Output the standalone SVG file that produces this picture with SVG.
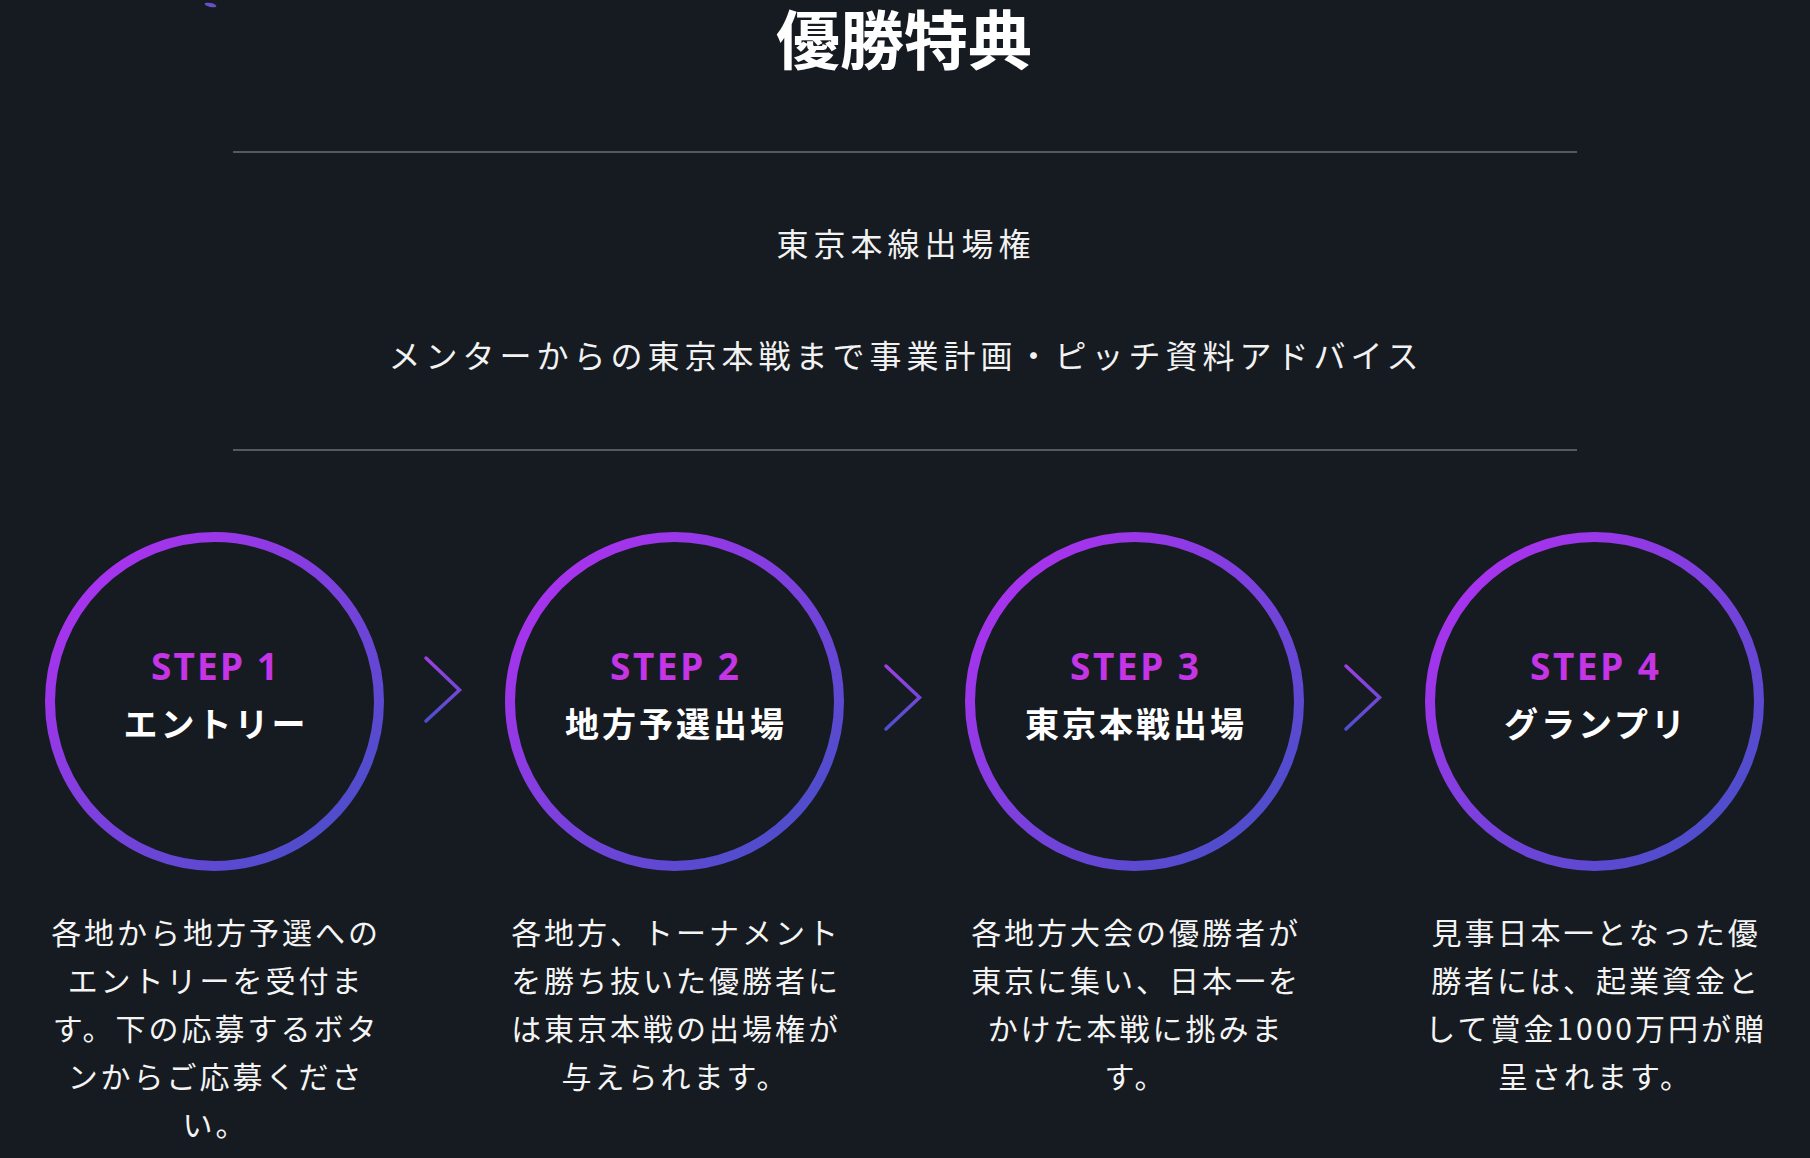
<svg xmlns="http://www.w3.org/2000/svg" width="1810" height="1158" viewBox="0 0 1810 1158">
  <defs>
    <linearGradient id="ring" x1="0" y1="0" x2="1" y2="1">
      <stop offset="0" stop-color="#b82ef4"/>
      <stop offset="1" stop-color="#3f52c6"/>
    </linearGradient>
    <linearGradient id="chev" gradientUnits="objectBoundingBox" x1="0" y1="0" x2="0" y2="1">
      <stop offset="0" stop-color="#9d3fe2"/>
      <stop offset="1" stop-color="#4d4fcf"/>
    </linearGradient>
    <style>
      .jp { font-family: "Noto Sans CJK JP", "Noto Sans", sans-serif; }
      .title { font-size: 64px; font-weight: 700; fill: #ffffff; }
      .sub { font-size: 32px; font-weight: 400; fill: #f2f2f2; letter-spacing: 5px; }
      .rule { stroke: #53595f; stroke-width: 2; }
      .ring { fill: none; stroke: url(#ring); stroke-width: 10; }
      .step { font-family: "Noto Sans", "Liberation Sans", sans-serif; font-size: 37px; font-weight: 700; fill: #c535e6; }
      .name { font-size: 34px; font-weight: 700; fill: #ffffff; letter-spacing: 3px; }
      .desc { font-size: 30px; font-weight: 400; fill: #f4f4f4; letter-spacing: 3px; }
      .chev { fill: none; stroke: url(#chev); stroke-width: 3.5; stroke-linecap: round; stroke-linejoin: miter; }
    </style>
  </defs>

  <rect width="1810" height="1158" fill="#161b21"/>

  <ellipse cx="210.5" cy="5" rx="6" ry="2" fill="#6a4ec4" transform="rotate(12 210.5 5)"/>

  <text class="jp title" x="904" y="64" text-anchor="middle">優勝特典</text>
  <line class="rule" x1="233" y1="152" x2="1577" y2="152"/>
  <text class="jp sub" x="906" y="256" text-anchor="middle">東京本線出場権</text>
  <text class="jp sub" x="906" y="368" text-anchor="middle">メンターからの東京本戦まで事業計画・ピッチ資料アドバイス</text>
  <line class="rule" x1="233" y1="450" x2="1577" y2="450"/>

  <g id="connectors">
    <polyline class="chev" points="426,658 459.5,690 426,721"/>
    <polyline class="chev" points="886,666 919.5,697.5 886,729"/>
    <polyline class="chev" points="1346,666 1379.5,697.5 1346,729"/>
  </g>

  <g id="step1">
    <circle class="ring" cx="214.5" cy="701.5" r="164.5"/>
    <text class="step" x="214.5" y="679.5" text-anchor="middle" textLength="127" lengthAdjust="spacing">STEP 1</text>
    <text class="jp name" x="216" y="737" text-anchor="middle">エントリー</text>
    <text class="jp desc" text-anchor="middle">
      <tspan x="221" y="944">各地から地方予選への</tspan>
      <tspan x="221" y="992">エントリーを受付ま</tspan>
      <tspan x="221" y="1040">す。下の応募するボタ</tspan>
      <tspan x="221" y="1088">ンからご応募くださ</tspan>
      <tspan x="215.5" y="1136">い。</tspan>
    </text>
  </g>

  <g id="step2">
    <circle class="ring" cx="674.5" cy="701.5" r="164.5"/>
    <text class="step" x="674.5" y="679.5" text-anchor="middle" textLength="129" lengthAdjust="spacing">STEP 2</text>
    <text class="jp name" x="676" y="737" text-anchor="middle">地方予選出場</text>
    <text class="jp desc" text-anchor="middle">
      <tspan x="681" y="944">各地方、トーナメント</tspan>
      <tspan x="681" y="992">を勝ち抜いた優勝者に</tspan>
      <tspan x="681" y="1040">は東京本戦の出場権が</tspan>
      <tspan x="675.5" y="1088">与えられます。</tspan>
    </text>
  </g>

  <g id="step3">
    <circle class="ring" cx="1134.5" cy="701.5" r="164.5"/>
    <text class="step" x="1134.5" y="679.5" text-anchor="middle" textLength="129" lengthAdjust="spacing">STEP 3</text>
    <text class="jp name" x="1136" y="737" text-anchor="middle">東京本戦出場</text>
    <text class="jp desc" text-anchor="middle">
      <tspan x="1141" y="944">各地方大会の優勝者が</tspan>
      <tspan x="1141" y="992">東京に集い、日本一を</tspan>
      <tspan x="1141" y="1040">かけた本戦に挑みま</tspan>
      <tspan x="1136" y="1088">す。</tspan>
    </text>
  </g>

  <g id="step4">
    <circle class="ring" cx="1594.5" cy="701.5" r="164.5"/>
    <text class="step" x="1594.5" y="679.5" text-anchor="middle" textLength="129" lengthAdjust="spacing">STEP 4</text>
    <text class="jp name" x="1596" y="737" text-anchor="middle">グランプリ</text>
    <text class="jp desc" text-anchor="middle">
      <tspan x="1601" y="944">見事日本一となった優</tspan>
      <tspan x="1601" y="992">勝者には、起業資金と</tspan>
      <tspan x="1601" y="1040">して賞金1000万円が贈</tspan>
      <tspan x="1595.5" y="1088">呈されます。</tspan>
    </text>
  </g>
</svg>
